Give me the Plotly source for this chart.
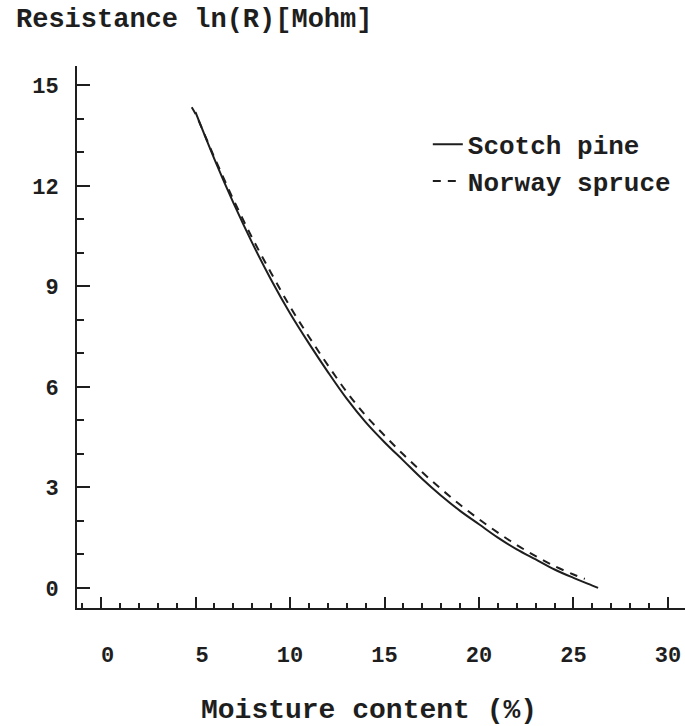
import plotly.graph_objects as go

# Data
pine_x = [5, 6, 7, 8, 9, 10, 11, 12, 13, 14, 15, 16, 17, 18, 19, 20, 21, 22, 23, 24, 25, 26, 26.3]
pine_y = [14.2, 12.8, 11.5, 10.3, 9.2, 8.2, 7.3, 6.45, 5.65, 4.95, 4.35, 3.8, 3.25, 2.75, 2.3, 1.9,
          1.5, 1.15, 0.85, 0.55, 0.3, 0.07, 0.0]

spruce_x = [4.8, 5, 6, 7, 8, 9, 10, 11, 12, 13, 14, 15, 16, 17, 18, 19, 20, 21, 22, 23, 24, 25, 25.6]
spruce_y = [14.35, 14.15, 12.85, 11.6, 10.45, 9.4, 8.4, 7.5, 6.65, 5.85, 5.15, 4.55, 3.98, 3.45,
            2.95, 2.48, 2.05, 1.65, 1.28, 0.95, 0.65, 0.4, 0.27]

x_ticks = [0, 5, 10, 15, 20, 25, 30]
x_ticklabels = ["\u00a00", "\u00a05", "10", "15", "20", "25", "30"]
y_ticks = [0, 3, 6, 9, 12, 15]

series_names = ["Scotch pine", "Norway spruce"]
y_title = "Resistance ln(R)[Mohm]"
x_title = "Moisture content (%)"

FONT = "Liberation Mono"
INK = "#1e1e1e"

fig = go.Figure()
fig.add_trace(go.Scatter(x=pine_x, y=pine_y, mode="lines", name=series_names[0],
                         line=dict(color=INK, width=2, shape="spline")))
fig.add_trace(go.Scatter(x=spruce_x, y=spruce_y, mode="lines", name=series_names[1],
                         line=dict(color=INK, width=2, dash="8px,7px", shape="spline")))

fig.update_layout(
    width=685, height=726,
    margin=dict(l=77, r=0, t=66, b=118),
    paper_bgcolor="white", plot_bgcolor="white",
    showlegend=True,
    legend=dict(x=0.577, y=0.899, xanchor="left", yanchor="top",
                bgcolor="rgba(0,0,0,0)", borderwidth=0, tracegroupgap=0,
                font=dict(family=FONT, size=26, color=INK, weight="bold")),
    xaxis=dict(range=[-1.27, 30.9], showgrid=False, zeroline=False,
               showline=True, linecolor=INK, linewidth=2, mirror=False,
               tickmode="array", tickvals=x_ticks, ticktext=x_ticklabels,
               ticks="inside", ticklen=11, tickwidth=2, tickcolor=INK,
               ticklabelstandoff=26,
               minor=dict(tickmode="linear", tick0=0, dtick=1, ticks="inside",
                          ticklen=5, tickwidth=2, tickcolor=INK),
               tickfont=dict(family=FONT, size=22, color=INK, weight="bold")),
    yaxis=dict(range=[-0.6, 15.58], showgrid=False, zeroline=False,
               showline=True, linecolor=INK, linewidth=2, mirror=False,
               tickmode="array", tickvals=y_ticks,
               ticks="inside", ticklen=13, tickwidth=2, tickcolor=INK,
               ticklabelstandoff=12,
               minor=dict(tickmode="linear", tick0=0, dtick=1, ticks="inside",
                          ticklen=7, tickwidth=2, tickcolor=INK),
               tickfont=dict(family=FONT, size=22, color=INK, weight="bold")),
    annotations=[
        dict(text=y_title, xref="paper", yref="paper", x=-0.1036, y=1.085,
             xanchor="left", yanchor="middle", showarrow=False,
             font=dict(family=FONT, size=27, color=INK, weight="bold")),
        dict(text=x_title, xref="paper", yref="paper", x=0.48, y=-0.19,
             xanchor="center", yanchor="middle", showarrow=False,
             font=dict(family=FONT, size=28, color=INK, weight="bold")),
    ],
)

fig.write_html("out.html")
